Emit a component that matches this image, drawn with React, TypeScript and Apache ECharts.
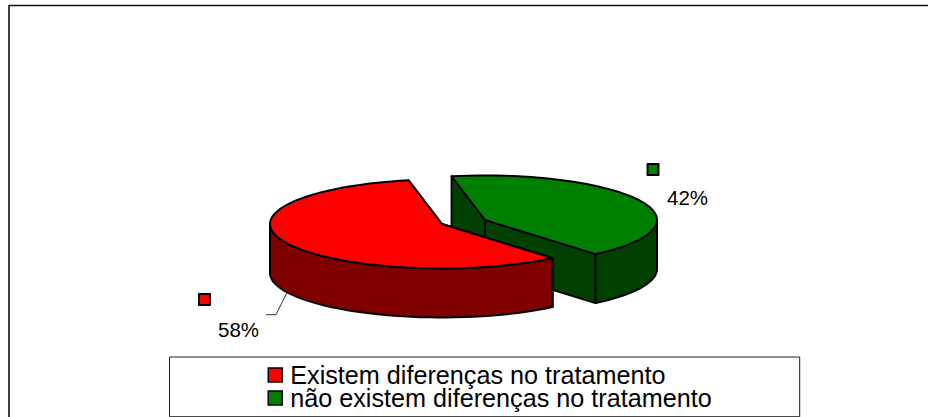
import React, { useEffect, useRef } from "react";
import * as echarts from "echarts";

const categories = ["Existem diferenças no tratamento", "não existem diferenças no tratamento"];
const shareValues = [58, 42];
const topColors = ["#FF0000", "#008000"];
const sideColors = ["#800000", "#004000"];

const FONT = '"Liberation Sans", Arial, sans-serif';
const RX = 172;
const RY = 44.5;
const DEPTH = 49;
const FIRST_ANGLE = 50;
const total = shareValues.reduce((a, b) => a + b, 0);

// slice geometry settings per slice
const sliceLayout = [
  { cx: 442, cy: 224, key: [199, 294], label: [218, 319], leader: [[287, 292.5], [276, 314.7], [266, 314.7]] },
  { cx: 485, cy: 220, key: [647.5, 164], label: [667, 187], leader: null as null | number[][] },
];

const rad = (d: number) => (d * Math.PI) / 180;

function arcPoints(cx: number, cy: number, a: number, b: number) {
  const pts: number[][] = [];
  const n = Math.max(2, Math.ceil(Math.abs(b - a) / 3));
  for (let i = 0; i <= n; i++) {
    const t = rad(a + ((b - a) * i) / n);
    pts.push([cx + RX * Math.cos(t), cy + RY * Math.sin(t)]);
  }
  return pts;
}

function sliceSeries(index: number) {
  const before = shareValues.slice(0, index).reduce((a, b) => a + b, 0);
  const stroke = { stroke: "#000", lineWidth: 2, lineJoin: "round" };
  return {
    type: "custom",
    name: categories[index],
    coordinateSystem: "none",
    silent: true,
    z: index === 0 ? 3 : 2,
    data: [[shareValues[index]]],
    itemStyle: { color: topColors[index] },
    renderItem: (_p: any, api: any) => {
      const value = api.value(0);
      const { cx, cy, key, label, leader } = sliceLayout[index];
      const start = FIRST_ANGLE + (before / total) * 360;
      const end = start + (value / total) * 360;
      const children: any[] = [];
      const side = { fill: sideColors[index], ...stroke };
      const edge = (ang: number) => {
        const p = [cx + RX * Math.cos(rad(ang)), cy + RY * Math.sin(rad(ang))];
        children.push({
          type: "polygon",
          shape: { points: [[cx, cy], p, [p[0], p[1] + DEPTH], [cx, cy + DEPTH]] },
          style: side,
        });
      };
      edge(start);
      edge(end);
      for (const base of [0, 360]) {
        const a = Math.max(start, base);
        const b = Math.min(end, base + 180);
        if (b > a) {
          const topArc = arcPoints(cx, cy, a, b);
          const lowArc = topArc.map(([x, y]) => [x, y + DEPTH]).reverse();
          children.push({ type: "polygon", shape: { points: [...topArc, ...lowArc] }, style: side });
        }
      }
      children.push({
        type: "polygon",
        shape: { points: [[cx, cy], ...arcPoints(cx, cy, start, end)] },
        style: { fill: topColors[index], ...stroke },
      });
      children.push({
        type: "rect",
        shape: { x: key[0], y: key[1], width: 11, height: 11 },
        style: { fill: topColors[index], ...stroke },
      });
      children.push({
        type: "text",
        style: {
          x: label[0],
          y: label[1],
          text: `${value}%`,
          fill: "#000",
          fontFamily: FONT,
          fontSize: 20.5,
          align: "left",
        },
      });
      if (leader) {
        children.push({
          type: "polyline",
          shape: { points: leader },
          style: { stroke: "#333", lineWidth: 1, fill: "none" },
        });
      }
      return { type: "group", children };
    },
  };
}

export default function App() {
  const ref = useRef<HTMLDivElement>(null);
  useEffect(() => {
    const chart = echarts.init(ref.current!, undefined, { renderer: "svg" });
    chart.setOption({
      animation: false,
      backgroundColor: "#fff",
      graphic: [
        { type: "line", shape: { x1: 9, y1: 5.5, x2: 928, y2: 5.5 }, style: { stroke: "#111", lineWidth: 1.6 } },
        { type: "line", shape: { x1: 9, y1: 5, x2: 9, y2: 417 }, style: { stroke: "#111", lineWidth: 1.6 } },
      ],
      legend: {
        show: true,
        orient: "vertical",
        left: 169.5,
        top: 357,
        height: 120,
        align: "left",
        padding: [5.5, 88, 6.2, 98],
        borderColor: "#222",
        borderWidth: 1,
        backgroundColor: "#fff",
        itemWidth: 14,
        itemHeight: 14,
        itemGap: -2,
        icon: "rect",
        selectedMode: false,
        textStyle: {
          fontFamily: FONT,
          fontSize: 25.2,
          lineHeight: 18,
          color: "#000",
          padding: [0, 0, 5, 3],
        },
        data: categories.map((name, i) => ({
          name,
          itemStyle: { color: topColors[i], borderColor: "#000", borderWidth: 1.5 },
        })),
      },
      series: [sliceSeries(1), sliceSeries(0)],
    });
    return () => chart.dispose();
  }, []);
  return (
    <div
      ref={ref}
      style={{ position: "absolute", left: 0, top: 0, width: 928, height: 417, background: "#fff" }}
    />
  );
}
